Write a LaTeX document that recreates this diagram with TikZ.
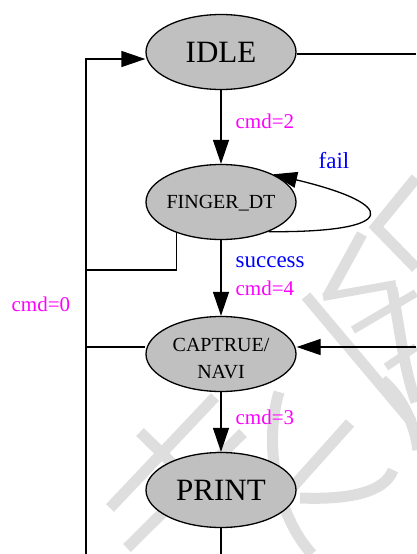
\documentclass[tikz,border=0pt]{standalone}
\usepackage{fontspec}
\setmainfont{Liberation Serif}
\usetikzlibrary{arrows.meta,shapes.geometric}
\definecolor{stategray}{RGB}{192,192,192}
\definecolor{markgray}{RGB}{222,222,222}
\definecolor{condpink}{RGB}{255,0,255}
\definecolor{resultblue}{RGB}{0,0,255}
\tikzset{
  state/.style={ellipse, draw, line width=1.3pt, fill=stategray, minimum width=150pt,
    minimum height=75pt, inner xsep=-6pt, inner ysep=0pt, align=center},
  bigname/.style={font=\fontsize{31}{36}\selectfont},
  smallname/.style={font=\fontsize{20}{27}\selectfont},
  cond/.style={inner sep=0pt, text=condpink, font=\fontsize{21}{24}\selectfont},
  result/.style={inner sep=0pt, text=resultblue, font=\fontsize{23}{26}\selectfont},
  tip/.style={-{Triangle[length=24pt,width=16pt]}},
}

\begin{document}
\begin{tikzpicture}[x=1pt,y=-1pt,line width=1.3pt]
\useasboundingbox (0,0) rectangle (416,554);
% watermark in the background
\begin{scope}[draw=markgray, line width=11pt]
  \draw (416,178) -- (376,227) -- (416,268);
  \draw (362,234) -- (328,296);
  \draw (306,296) -- (412,422);
  \draw[line width=8pt] (323,297) -- (396,284);
  \draw[line width=8pt] (353,330) -- (416,293);
  \draw[line width=8pt] (386,367) -- (416,347);
  \draw (392,288) .. controls (400,330) and (404,370) .. (416,402);
  \draw (215,397) -- (110,508);
  \draw (140,432) -- (235,525);
  \draw (243,433) -- (127,548);
  \draw (350,423) -- (290,490);
  \draw (279,392) .. controls (262,450) and (280,520) .. (312,554);
  \draw (393,470) .. controls (385,492) and (350,500) .. (300,498);
  \draw (382,380) .. controls (400,395) and (414,420) .. (418,450);
\end{scope}

\node[state,bigname] (idle) at (221,52) {IDLE};
\node[state,smallname,text depth=0pt] (finger) at (221,202) {FINGER\_DT};
\node[state,smallname] (capture) at (221,354) {\rule{0pt}{22pt}CAPTRUE/\\NAVI};
\node[state,bigname] (print) at (221,490) {PRINT};

\coordinate (idleout) at (416,54);
\coordinate (capin) at (416,347);
\coordinate (printout) at (221,554);
\coordinate (busend) at (86,554);
\coordinate (busfinger) at (86,270);
\coordinate (buscap) at (86,347);

\draw[tip] (idle) -- node[cond,right=14pt,pos=0.42] {cmd=2} (finger);
\draw[tip] (finger) -- node[result,right=14pt,pos=0.29] {success}
  node[cond,right=14pt,pos=0.64] {cmd=4} (capture);
\draw[tip] (capture) -- node[cond,right=14pt,pos=0.42] {cmd=3} (print);
\draw (print) -- (printout);
\draw[tip] (finger.-32) .. controls +(132,1) and +(126,30) .. (finger.28);
\node[result,anchor=base west] (fail) at (318,168) {fail};

% lines back to IDLE
\draw[tip] (busend) |- ([yshift=-7pt]idle.west);
\draw (finger.215) |- (busfinger);
\draw ([yshift=7pt]capture.west) -- (buscap);
\node[cond,anchor=base west] (cmdzero) at (11,311) {cmd=0};

\draw ([yshift=-2pt]idle.east) -- (idleout);
\draw[tip] (capin) -- ([yshift=7pt]capture.east);
\end{tikzpicture}
\end{document}
